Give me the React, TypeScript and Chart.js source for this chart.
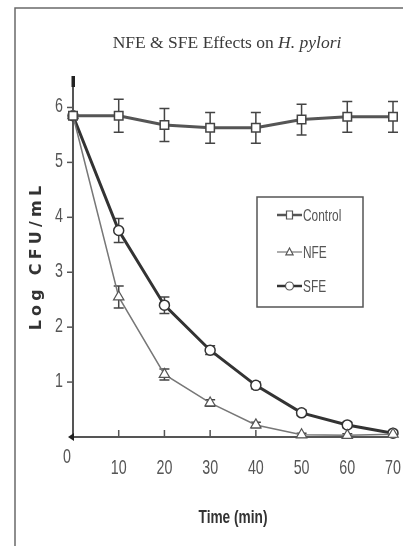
import React, { useEffect, useRef } from 'react';
import { Chart, registerables } from 'chart.js';

Chart.register(...registerables);

// ---- data ----
const times = [0, 10, 20, 30, 40, 50, 60, 70];
const controlValues = [5.85, 5.85, 5.68, 5.63, 5.63, 5.78, 5.83, 5.83];
const controlErrors = [0, 0.3, 0.3, 0.28, 0.28, 0.28, 0.28, 0.28];
const nfeValues = [5.85, 2.55, 1.14, 0.62, 0.22, 0.04, 0.03, 0.05];
const nfeErrors = [0, 0.2, 0.1, 0.06, 0.05, 0.03, 0.03, 0.03];
const sfeValues = [5.85, 3.76, 2.4, 1.58, 0.94, 0.44, 0.22, 0.07];
const sfeErrors = [0, 0.22, 0.15, 0.08, 0.06, 0.05, 0.05, 0.03];
const seriesLabels = ['Control', 'NFE', 'SFE'];
const xTickValues = [0, 10, 20, 30, 40, 50, 60, 70];
const yTickValues = [0, 1, 2, 3, 4, 5, 6];
const titleMain = 'NFE & SFE Effects on ';
const titleItalic = 'H. pylori';
const xAxisTitle = 'Time (min)';
const yAxisTitle = 'Log CFU/mL';

const SANS = "'Liberation Sans', Arial, sans-serif";
const SERIF = "'Liberation Serif', 'DejaVu Serif', serif";

const errorSets = [controlErrors, nfeErrors, sfeErrors];
const valueSets = [controlValues, nfeValues, sfeValues];

function condensedText(
  ctx: CanvasRenderingContext2D,
  text: string,
  x: number,
  y: number,
  font: string,
  sx: number,
  align: CanvasTextAlign,
) {
  ctx.save();
  ctx.translate(x, y);
  ctx.scale(sx, 1);
  ctx.font = font;
  ctx.textAlign = align;
  ctx.textBaseline = 'middle';
  ctx.fillText(text, 0, 0);
  ctx.restore();
}

function drawMarker(ctx: CanvasRenderingContext2D, style: string, x: number, y: number, r: number) {
  ctx.beginPath();
  if (style === 'rect') {
    ctx.rect(x - r * 0.75, y - r, r * 1.5, r * 2);
  } else if (style === 'triangle') {
    ctx.moveTo(x, y - r);
    ctx.lineTo(x + r * 0.9, y + r * 0.7);
    ctx.lineTo(x - r * 0.9, y + r * 0.7);
    ctx.closePath();
  } else {
    ctx.arc(x, y, r, 0, Math.PI * 2);
  }
  ctx.fillStyle = '#fff';
  ctx.fill();
  ctx.stroke();
}

const decorPlugin = {
  id: 'decor',
  beforeDraw(chart: any) {
    const ctx = chart.ctx as CanvasRenderingContext2D;
    ctx.save();
    // frame
    ctx.strokeStyle = '#6a6a6a';
    ctx.lineWidth = 1.5;
    ctx.beginPath();
    ctx.moveTo(15, chart.height);
    ctx.lineTo(15, 8);
    ctx.lineTo(chart.width, 8);
    ctx.stroke();
    // title
    ctx.fillStyle = '#3a3a3a';
    ctx.textBaseline = 'middle';
    const fs = 17.5;
    ctx.font = `${fs}px ${SERIF}`;
    const w1 = ctx.measureText(titleMain).width;
    ctx.font = `italic ${fs}px ${SERIF}`;
    const w2 = ctx.measureText(titleItalic).width;
    const cx = 227;
    const sx = cx - (w1 + w2) / 2;
    ctx.font = `${fs}px ${SERIF}`;
    ctx.textAlign = 'left';
    ctx.fillText(titleMain, sx, 43);
    ctx.font = `italic ${fs}px ${SERIF}`;
    ctx.fillText(titleItalic, sx + w1, 43);
    // axis titles
    ctx.fillStyle = '#333';
    condensedText(ctx, xAxisTitle, 233, 518, `bold 18px ${SANS}`, 0.76, 'center');
    ctx.save();
    ctx.translate(37, 256);
    ctx.rotate(-Math.PI / 2);
    ctx.font = `bold 16px 'DejaVu Sans', sans-serif`;
    (ctx as any).letterSpacing = '4.2px';
    ctx.textAlign = 'center';
    ctx.textBaseline = 'middle';
    ctx.fillText(yAxisTitle, 0, 0);
    ctx.restore();
    ctx.restore();
  },
  beforeDatasetsDraw(chart: any) {
    const ctx = chart.ctx as CanvasRenderingContext2D;
    const xs = chart.scales.x;
    const ys = chart.scales.y;
    ctx.save();
    // inner x ticks
    ctx.strokeStyle = '#555';
    ctx.lineWidth = 1.5;
    xTickValues.forEach((v) => {
      if (v === 0 || v === 70) return;
      const px = xs.getPixelForValue(v);
      ctx.beginPath();
      ctx.moveTo(px, ys.bottom);
      ctx.lineTo(px, ys.bottom - 7);
      ctx.stroke();
    });
    // y tick marks
    yTickValues.forEach((v) => {
      if (v === 0) return;
      const py = ys.getPixelForValue(v);
      ctx.beginPath();
      ctx.moveTo(xs.left - 6, py);
      ctx.lineTo(xs.left, py);
      ctx.stroke();
    });
    // tick labels (condensed)
    ctx.fillStyle = '#555';
    const tf = `21px ${SANS}`;
    xTickValues.forEach((v) => {
      if (v === 0) return;
      condensedText(ctx, String(v), xs.getPixelForValue(v), ys.bottom + 31, tf, 0.68, 'center');
    });
    yTickValues.forEach((v) => {
      if (v === 0) return;
      condensedText(ctx, String(v), xs.left - 10, ys.getPixelForValue(v) - 1, tf, 0.68, 'right');
    });
    condensedText(ctx, '0', xs.left - 6, ys.bottom + 20, tf, 0.68, 'center');
    // axis arrow marks
    ctx.fillStyle = '#222';
    ctx.fillRect(xs.left - 1.5, ys.top - 4, 3.5, 11);
    ctx.beginPath();
    ctx.moveTo(xs.left - 5, ys.bottom);
    ctx.lineTo(xs.left + 1, ys.bottom - 4);
    ctx.lineTo(xs.left + 1, ys.bottom + 4);
    ctx.closePath();
    ctx.fill();
    // error bars
    ctx.strokeStyle = '#444';
    ctx.lineWidth = 1.5;
    valueSets.forEach((vals, di) => {
      const errs = errorSets[di];
      vals.forEach((v, j) => {
        const e = errs[j];
        if (!e) return;
        const px = xs.getPixelForValue(times[j]);
        const top = ys.getPixelForValue(v + e);
        const bot = ys.getPixelForValue(Math.max(0, v - e));
        ctx.beginPath();
        ctx.moveTo(px, top);
        ctx.lineTo(px, bot);
        ctx.moveTo(px - 5, top);
        ctx.lineTo(px + 5, top);
        ctx.moveTo(px - 5, bot);
        ctx.lineTo(px + 5, bot);
        ctx.stroke();
      });
    });
    ctx.restore();
  },
  afterDatasetsDraw(chart: any) {
    const ctx = chart.ctx as CanvasRenderingContext2D;
    ctx.save();
    // legend box
    ctx.strokeStyle = '#555';
    ctx.lineWidth = 1.5;
    ctx.fillStyle = '#fff';
    ctx.fillRect(257, 197, 106, 110);
    ctx.strokeRect(257, 197, 106, 110);
    const ys = [215, 252, 286];
    const styles = ['rect', 'triangle', 'circle'];
    const widths = [2.5, 1.2, 2.5];
    const colors = ['#555', '#777', '#333'];
    seriesLabels.forEach((lab, i) => {
      const y = ys[i];
      ctx.strokeStyle = colors[i];
      ctx.lineWidth = widths[i];
      ctx.beginPath();
      ctx.moveTo(277, y);
      ctx.lineTo(302, y);
      ctx.stroke();
      ctx.lineWidth = 1.2;
      ctx.strokeStyle = '#555';
      drawMarker(ctx, styles[i], 289.5, y, 4);
      ctx.fillStyle = '#555';
      condensedText(ctx, lab, 303, y + 1, `17px ${SANS}`, 0.7, 'left');
    });
    ctx.restore();
  },
};

export default function App() {
  const ref = useRef<HTMLCanvasElement | null>(null);
  useEffect(() => {
    if (!ref.current) return;
    const mk = (vals: number[]) => vals.map((v, i) => ({ x: times[i], y: v }));
    const chart = new Chart(ref.current, {
      type: 'line',
      data: {
        datasets: [
          {
            label: seriesLabels[0],
            data: mk(controlValues),
            borderColor: '#555',
            borderWidth: 3,
            pointStyle: 'rect',
            pointRadius: 6,
            pointBackgroundColor: '#fff',
            pointBorderColor: '#444',
            pointBorderWidth: 1.5,
            tension: 0,
            clip: false,
          },
          {
            label: seriesLabels[1],
            data: mk(nfeValues),
            borderColor: '#777',
            borderWidth: 1.5,
            pointStyle: 'triangle',
            pointRadius: 6,
            pointBackgroundColor: '#fff',
            pointBorderColor: '#555',
            pointBorderWidth: 1.2,
            tension: 0,
            clip: false,
          },
          {
            label: seriesLabels[2],
            data: mk(sfeValues),
            borderColor: '#333',
            borderWidth: 3,
            pointStyle: 'circle',
            pointRadius: 5,
            pointBackgroundColor: '#fff',
            pointBorderColor: '#333',
            pointBorderWidth: 1.5,
            tension: 0,
            clip: false,
          },
        ],
      },
      options: {
        responsive: false,
        animation: false,
        layout: { padding: { left: 0, right: 10, top: 80, bottom: 0 } },
        plugins: {
          legend: { display: false },
          title: { display: false },
          tooltip: { enabled: false },
        },
        scales: {
          x: {
            type: 'linear',
            min: 0,
            max: 70,
            afterBuildTicks: (s: any) => {
              s.ticks = xTickValues.map((v) => ({ value: v }));
            },
            afterFit: (s: any) => {
              s.height = 109;
            },
            grid: { display: false, drawTicks: false },
            border: { display: true, color: '#555', width: 2 },
            ticks: { display: false },
          },
          y: {
            type: 'linear',
            min: 0,
            max: 6.5,
            afterBuildTicks: (s: any) => {
              s.ticks = yTickValues.map((v) => ({ value: v }));
            },
            afterFit: (s: any) => {
              s.width = 73;
            },
            grid: { display: false, drawTicks: false },
            border: { display: true, color: '#555', width: 2 },
            ticks: { display: false },
          },
        },
      },
      plugins: [decorPlugin],
    });
    return () => chart.destroy();
  }, []);
  return (
    <div style={{ position: 'absolute', left: 0, top: 0, width: 403, height: 546, background: '#fff' }}>
      <canvas ref={ref} width={403} height={546} />
    </div>
  );
}
